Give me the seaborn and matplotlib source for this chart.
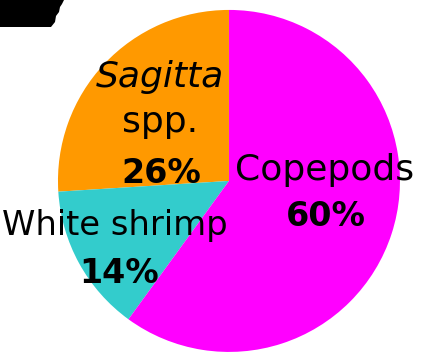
import matplotlib
matplotlib.use("Agg")
import matplotlib.pyplot as plt
import seaborn as sns
from matplotlib.patches import Polygon

sns.set_theme(style="white")
plt.rcParams["font.family"] = ["DejaVu Sans"]
plt.rcParams["text.color"] = "black"

# Diet composition
categories = ["Sagitta spp.", "White shrimp", "Copepods"]
shares = [26, 14, 60]
colors = ["#FF9900", "#33CCCC", "#FF00FF"]

fig = plt.figure(figsize=(4.34, 3.54), dpi=100)
ax = fig.add_axes([0, 0, 1, 1])
ax.patch.set_visible(False)
ax.pie(shares, colors=colors, startangle=90, counterclock=True,
       wedgeprops=dict(linewidth=0))
ax.set_aspect("equal")
ax.set_xlim(-1.339, 1.199)
ax.set_ylim(-1.012, 1.058)
ax.axis("off")

name_size = 26
pct_size = 24
common = dict(ha="center", va="baseline", color="black")

# Sagitta spp.
ax.text(-0.404, 0.550, "Sagitta", style="italic", fontsize=name_size, **common)
ax.text(-0.404, 0.287, "spp.", fontsize=name_size, **common)
ax.text(-0.398, -0.012, f"{shares[0]}%", fontsize=pct_size, fontweight="bold", **common)
# White shrimp
ax.text(-0.665, -0.316, categories[1], fontsize=24.3, **common)
ax.text(-0.643, -0.596, f"{shares[1]}%", fontsize=pct_size, fontweight="bold", **common)
# Copepods
ax.text(0.561, 0.006, categories[2], fontsize=name_size, **common)
ax.text(0.564, -0.263, f"{shares[2]}%", fontsize=pct_size, fontweight="bold", **common)

# dark mark in the upper-left corner (pixel coordinates, measured from the top)
corner = [(0, 0), (64, 0), (62, 4), (60, 7), (59, 12), (56, 16), (55, 22), (51, 27), (0, 27)]
fig.add_artist(Polygon([(x, 354 - y) for x, y in corner],
                       closed=True, facecolor="black", edgecolor="none",
                       transform=None, zorder=10))

fig.savefig("out.png", dpi=100)
